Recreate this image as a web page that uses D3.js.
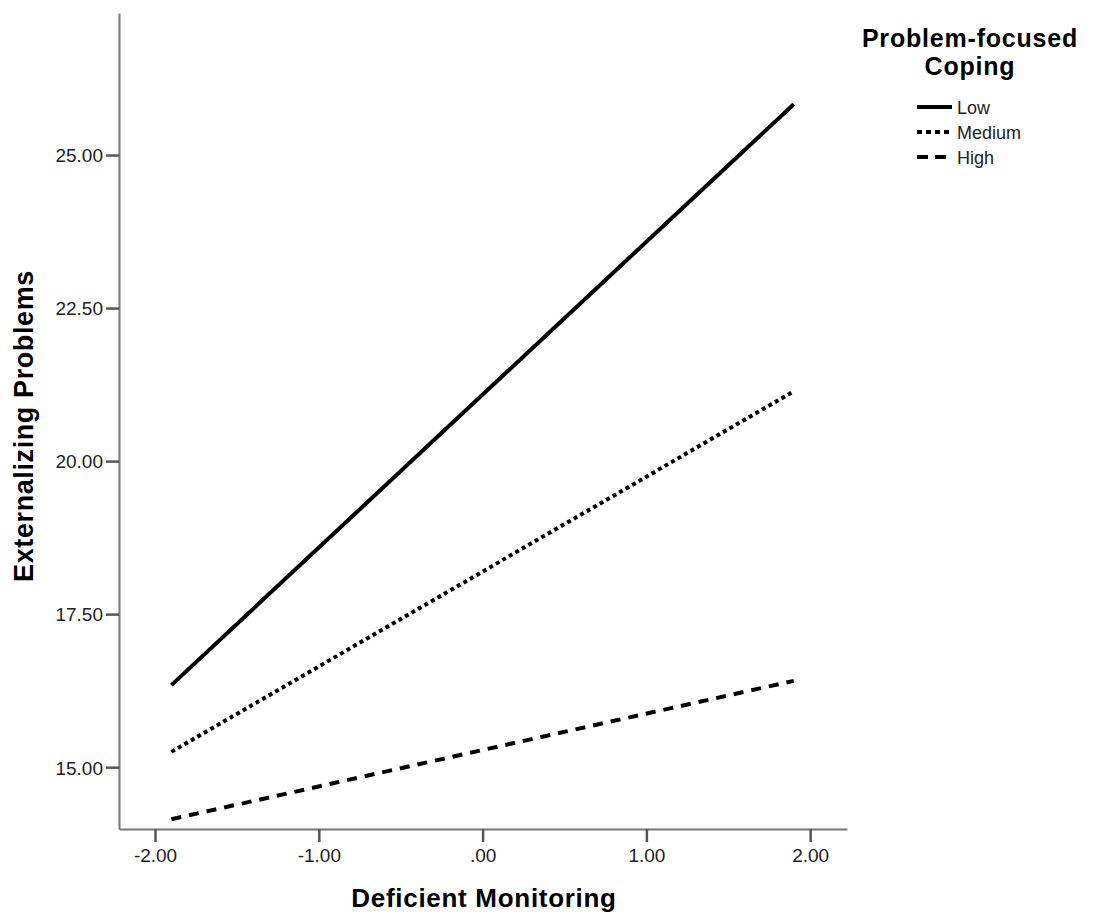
<!DOCTYPE html>
<html>
<head>
    <meta charset="utf-8">
    <script src="https://d3js.org/d3.v7.min.js"></script>
    <style>
        body { margin: 0; background: #fff; }
        text { font-family: "Liberation Sans", Arial, sans-serif; }
    </style>
</head>
<body>
    <svg id="chart"></svg>
    <script>
        // Series endpoints (simple slopes)
        const xValues = [-1.9, 1.9];
        const lowValues = [16.34, 25.83];
        const mediumValues = [15.25, 21.14];
        const highValues = [14.15, 16.41];
        const seriesNames = ['Low', 'Medium', 'High'];
        const xTicks = [-2, -1, 0, 1, 2];
        const yTicks = [15, 17.5, 20, 22.5, 25];

        const width = 1095, height = 916;
        const svg = d3.select('#chart').attr('width', width).attr('height', height);

        // Plot frame
        const plotLeft = 119, plotRight = 847, plotTop = 13, plotBottom = 829;

        const x = d3.scaleLinear().domain([-2.22, 2.225]).range([plotLeft, plotRight]);
        const y = d3.scaleLinear().domain([13.99, 27.32]).range([plotBottom, plotTop]);

        // SPSS style labels: hyphen minus, no leading zero
        const fmt = d => {
            const s = d3.format('.2f')(Math.abs(d));
            const t = s === '0.00' ? '.00' : s;
            return d < 0 ? '-' + t : t;
        };

        // Axes
        const xAxis = svg.append('g')
            .attr('transform', `translate(0,${plotBottom})`)
            .call(d3.axisBottom(x).tickValues(xTicks).tickFormat(fmt).tickSize(13).tickSizeOuter(0));
        const yAxis = svg.append('g')
            .attr('transform', `translate(${plotLeft},0)`)
            .call(d3.axisLeft(y).tickValues(yTicks).tickFormat(fmt).tickSize(13).tickSizeOuter(0));

        [xAxis, yAxis].forEach(a => {
            a.select('.domain').attr('stroke', '#777').attr('stroke-width', 2);
            a.selectAll('.tick line').attr('stroke', '#555').attr('stroke-width', 2.5);
            a.selectAll('.tick text')
                .attr('fill', '#222')
                .style('font-size', '19px')
                .style('font-family', '"Liberation Sans", Arial, sans-serif');
        });
        xAxis.selectAll('.tick text').attr('y', 20).attr('dy', '0.71em');
        yAxis.selectAll('.tick text').attr('x', -16).attr('dy', '0.36em');

        // Axis titles
        svg.append('text')
            .attr('x', 484).attr('y', 907)
            .attr('text-anchor', 'middle')
            .style('font-size', '26px').style('font-weight', 'bold')
            .style('letter-spacing', '0.7px')
            .text('Deficient Monitoring');
        svg.append('text')
            .attr('transform', 'translate(33,426) rotate(-90)')
            .attr('text-anchor', 'middle')
            .style('font-size', '27px').style('font-weight', 'bold')
            .style('letter-spacing', '0.6px')
            .text('Externalizing Problems');

        // Lines
        const styles = {
            Low: null,
            Medium: '4,3.5',
            High: '10,8'
        };
        const legendStyles = {
            Low: null,
            Medium: '5,4',
            High: '11,7'
        };
        const seriesData = [lowValues, mediumValues, highValues];
        const line = d3.line().x(d => x(d[0])).y(d => y(d[1]));

        seriesNames.forEach((name, i) => {
            const pts = xValues.map((v, j) => [v, seriesData[i][j]]);
            svg.append('path')
                .datum(pts)
                .attr('d', line)
                .attr('fill', 'none')
                .attr('stroke', '#000')
                .attr('stroke-width', 4)
                .attr('stroke-dasharray', styles[name]);
        });

        // Legend
        const lg = svg.append('g');
        lg.append('text')
            .attr('x', 970).attr('y', 47)
            .attr('text-anchor', 'middle')
            .style('font-size', '25px').style('font-weight', 'bold')
            .style('letter-spacing', '0.8px')
            .text('Problem-focused');
        lg.append('text')
            .attr('x', 970).attr('y', 75)
            .attr('text-anchor', 'middle')
            .style('font-size', '25px').style('font-weight', 'bold')
            .style('letter-spacing', '0.8px')
            .text('Coping');

        seriesNames.forEach((name, i) => {
            const yy = 107 + i * 25;
            lg.append('line')
                .attr('x1', 917).attr('x2', 952)
                .attr('y1', yy).attr('y2', yy)
                .attr('stroke', '#000')
                .attr('stroke-width', 4)
                .attr('stroke-dasharray', legendStyles[name]);
            lg.append('text')
                .attr('x', 957).attr('y', yy + 7)
                .style('font-size', '18px')
                .attr('fill', '#222')
                .text(name);
        });
    </script>
</body>
</html>
